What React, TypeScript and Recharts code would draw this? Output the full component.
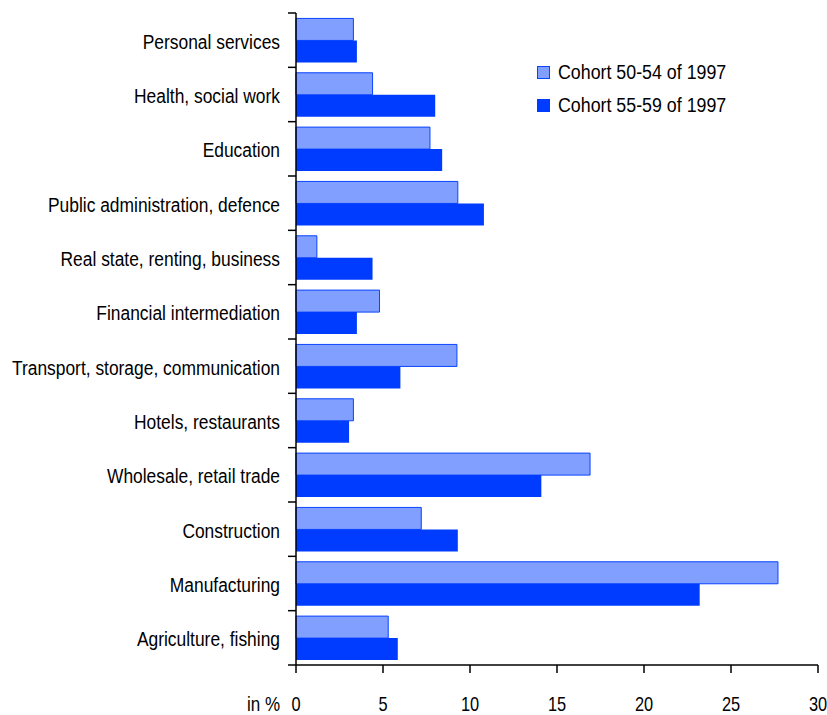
import React from "react";
import { BarChart, Bar, XAxis, YAxis } from "recharts";

const categories = [
  "Personal services",
  "Health, social work",
  "Education",
  "Public administration, defence",
  "Real state, renting, business",
  "Financial intermediation",
  "Transport, storage, communication",
  "Hotels, restaurants",
  "Wholesale, retail trade",
  "Construction",
  "Manufacturing",
  "Agriculture, fishing",
];

const cohort5054 = [3.3, 4.4, 7.7, 9.3, 1.2, 4.8, 9.25, 3.3, 16.9, 7.2, 27.7, 5.3];
const cohort5559 = [3.5, 8.0, 8.4, 10.8, 4.4, 3.5, 6.0, 3.05, 14.1, 9.3, 23.2, 5.85];

const xTicks = [0, 5, 10, 15, 20, 25, 30];

const LIGHT = "#809fff";
const LIGHT_EDGE = "#0a44ff";
const DARK = "#003cff";
const FONT = "'Liberation Sans', Arial, sans-serif";
// the original text is narrow and tall, so draw it a bit larger and squeeze it
const FS = 20;
const SQUEEZE = 0.87;

const data = categories.map((name, i) => ({
  name,
  a: cohort5054[i],
  b: cohort5559[i],
}));

const TOP = 13;
const BOTTOM = 665;
const AXIS_X = 296;
const band = (BOTTOM - TOP) / categories.length;

const Squeezed = ({ x, y, anchor, sx, children }: any) => (
  <text
    transform={`translate(${x},${y}) scale(${sx},1)`}
    textAnchor={anchor}
    fontSize={FS}
    fontFamily={FONT}
    fill="#000"
  >
    {children}
  </text>
);

const CategoryTick = (props: any) => {
  const { y, payload, index } = props;
  return (
    <g>
      <line x1={AXIS_X - 8} x2={AXIS_X} y1={y - band / 2} y2={y - band / 2} stroke="#000" strokeWidth={1.5} />
      {index === categories.length - 1 && (
        <line x1={AXIS_X - 8} x2={AXIS_X} y1={y + band / 2} y2={y + band / 2} stroke="#000" strokeWidth={1.5} />
      )}
      <Squeezed x={280} y={y + 8.5} anchor="end" sx={SQUEEZE}>
        {payload.value}
      </Squeezed>
    </g>
  );
};

const ValueTick = (props: any) => {
  const { x, payload } = props;
  return (
    <Squeezed x={x} y={711} anchor="middle" sx={0.82}>
      {payload.value}
    </Squeezed>
  );
};

const legendItems = [
  { label: "Cohort 50-54 of 1997", fill: LIGHT, edge: LIGHT_EDGE },
  { label: "Cohort 55-59 of 1997", fill: DARK, edge: DARK },
];

const App: React.FC = () => {
  return (
    <div style={{ position: "absolute", left: 0, top: 0, width: 827, height: 715, background: "#fff" }}>
      <BarChart
        width={827}
        height={715}
        data={data}
        layout="vertical"
        margin={{ top: TOP, right: 9, left: 0, bottom: 0 }}
        barCategoryGap="10%"
        barGap={0}
      >
        <XAxis
          type="number"
          domain={[0, 30]}
          ticks={xTicks}
          interval={0}
          height={50}
          axisLine={{ stroke: "#000", strokeWidth: 1.5 }}
          tickLine={{ stroke: "#000", strokeWidth: 1.5 }}
          tickSize={8}
          tick={<ValueTick />}
          label={{
            content: () => (
              <Squeezed x={280} y={711} anchor="end" sx={0.85}>
                in %
              </Squeezed>
            ),
          }}
        />
        <YAxis
          type="category"
          dataKey="name"
          width={296}
          interval={0}
          axisLine={{ stroke: "#000", strokeWidth: 1.5 }}
          tickLine={false}
          tick={<CategoryTick />}
        />
        <Bar dataKey="a" name="Cohort 50-54 of 1997" fill={LIGHT} stroke={LIGHT_EDGE} strokeWidth={1} isAnimationActive={false} />
        <Bar dataKey="b" name="Cohort 55-59 of 1997" fill={DARK} isAnimationActive={false} />
      </BarChart>
      <div style={{ position: "absolute", left: 537, top: 56, fontFamily: FONT, fontSize: 20, color: "#000" }}>
        {legendItems.map((it) => (
          <div key={it.label} style={{ display: "flex", alignItems: "center", height: 33 }}>
            <span
              style={{
                width: 11,
                height: 11,
                background: it.fill,
                border: `1px solid ${it.edge}`,
                display: "inline-block",
                marginRight: 8,
                flexShrink: 0,
              }}
            />
            <span style={{ display: "inline-block", transform: "scaleX(0.89)", transformOrigin: "left center", whiteSpace: "nowrap" }}>
              {it.label}
            </span>
          </div>
        ))}
      </div>
    </div>
  );
};

export default App;
